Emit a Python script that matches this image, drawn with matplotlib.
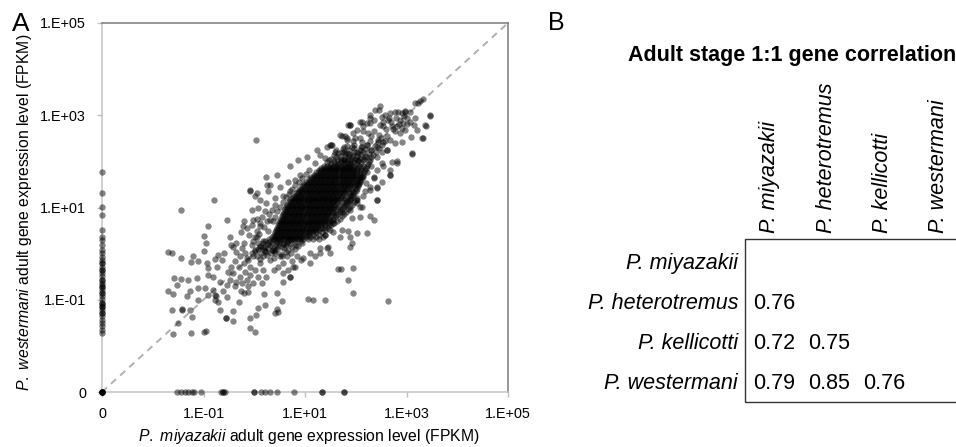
import matplotlib
matplotlib.use("Agg")
import matplotlib.pyplot as plt
from matplotlib.ticker import NullLocator, FixedLocator, FixedFormatter
from matplotlib.patches import Rectangle
import numpy as np

plt.rcParams['font.family'] = ['Liberation Sans', 'DejaVu Sans']
plt.rcParams['mathtext.fontset'] = 'custom'
plt.rcParams['mathtext.rm'] = 'Liberation Sans'
plt.rcParams['mathtext.it'] = 'Liberation Sans:italic'

# ---------------- Panel A data (log10 FPKM) ----------------
ZERO_POS = 1e-3  # where a zero value sits on the log axes (labelled "0")

# dense core, by rows: (log10 y, [log10 x ...])
core_rows = [
    (0.31, [0.30, 0.36, 0.41, 0.46, 0.51, 0.56, 0.61, 0.66, 0.71, 0.76, 0.81, 0.86, 0.91, 0.97, 1.05, 1.15, 1.28]),
    (0.36, [0.34, 0.40, 0.45, 0.50, 0.55, 0.60, 0.65, 0.70, 0.75, 0.80, 0.85, 0.90, 0.95, 1.01, 1.10, 1.22, 1.35]),
    (0.41, [0.38, 0.43, 0.48, 0.53, 0.58, 0.63, 0.68, 0.73, 0.78, 0.83, 0.88, 0.93, 0.98, 1.03, 1.08, 1.15, 1.27, 1.40]),
    (0.46, [0.40, 0.45, 0.50, 0.55, 0.60, 0.65, 0.70, 0.75, 0.80, 0.85, 0.90, 0.95, 1.00, 1.05, 1.10, 1.16, 1.22, 1.34]),
    (0.51, [0.42, 0.47, 0.52, 0.57, 0.62, 0.67, 0.72, 0.77, 0.82, 0.87, 0.92, 0.97, 1.02, 1.07, 1.12, 1.17, 1.22, 1.28, 1.40]),
    (0.56, [0.44, 0.49, 0.54, 0.59, 0.64, 0.69, 0.74, 0.79, 0.84, 0.89, 0.94, 0.99, 1.04, 1.09, 1.14, 1.19, 1.24, 1.29, 1.34, 1.46]),
    (0.61, [0.46, 0.51, 0.56, 0.61, 0.66, 0.71, 0.76, 0.81, 0.86, 0.91, 0.96, 1.01, 1.06, 1.11, 1.16, 1.21, 1.26, 1.31, 1.40, 1.52]),
    (0.66, [0.48, 0.53, 0.58, 0.63, 0.68, 0.73, 0.78, 0.83, 0.88, 0.93, 0.98, 1.03, 1.08, 1.13, 1.18, 1.23, 1.28, 1.33, 1.38, 1.46, 1.58]),
    (0.71, [0.50, 0.55, 0.60, 0.65, 0.70, 0.75, 0.80, 0.85, 0.90, 0.95, 1.00, 1.05, 1.10, 1.15, 1.20, 1.25, 1.30, 1.35, 1.40, 1.45, 1.52, 1.64]),
    (0.76, [0.52, 0.57, 0.62, 0.67, 0.72, 0.77, 0.82, 0.87, 0.92, 0.97, 1.02, 1.07, 1.12, 1.17, 1.22, 1.27, 1.32, 1.37, 1.42, 1.48, 1.56, 1.68]),
    (0.81, [0.54, 0.59, 0.64, 0.69, 0.74, 0.79, 0.84, 0.89, 0.94, 0.99, 1.04, 1.09, 1.14, 1.19, 1.24, 1.29, 1.34, 1.39, 1.44, 1.50, 1.60, 1.72]),
    (0.86, [0.56, 0.61, 0.66, 0.71, 0.76, 0.81, 0.86, 0.91, 0.96, 1.01, 1.06, 1.11, 1.16, 1.21, 1.26, 1.31, 1.36, 1.41, 1.46, 1.53, 1.64, 1.76]),
    (0.91, [0.58, 0.63, 0.68, 0.73, 0.78, 0.83, 0.88, 0.93, 0.98, 1.03, 1.08, 1.13, 1.18, 1.23, 1.28, 1.33, 1.38, 1.43, 1.48, 1.53, 1.58, 1.68, 1.80]),
    (0.96, [0.60, 0.65, 0.70, 0.75, 0.80, 0.85, 0.90, 0.95, 1.00, 1.05, 1.10, 1.15, 1.20, 1.25, 1.30, 1.35, 1.40, 1.45, 1.50, 1.55, 1.62, 1.72, 1.84]),
    (1.01, [0.62, 0.67, 0.72, 0.77, 0.82, 0.87, 0.92, 0.97, 1.02, 1.07, 1.12, 1.17, 1.22, 1.27, 1.32, 1.37, 1.42, 1.47, 1.52, 1.57, 1.65, 1.76, 1.88]),
    (1.06, [0.65, 0.70, 0.75, 0.80, 0.85, 0.90, 0.95, 1.00, 1.05, 1.10, 1.15, 1.20, 1.25, 1.30, 1.35, 1.40, 1.45, 1.50, 1.55, 1.60, 1.68, 1.80, 1.92]),
    (1.11, [0.68, 0.73, 0.78, 0.83, 0.88, 0.93, 0.98, 1.03, 1.08, 1.13, 1.18, 1.23, 1.28, 1.33, 1.38, 1.43, 1.48, 1.53, 1.58, 1.63, 1.72, 1.84, 1.96]),
    (1.16, [0.71, 0.76, 0.81, 0.86, 0.91, 0.96, 1.01, 1.06, 1.11, 1.16, 1.21, 1.26, 1.31, 1.36, 1.41, 1.46, 1.51, 1.56, 1.61, 1.66, 1.76, 1.88, 2.00]),
    (1.21, [0.75, 0.80, 0.85, 0.90, 0.95, 1.00, 1.05, 1.10, 1.15, 1.20, 1.25, 1.30, 1.35, 1.40, 1.45, 1.50, 1.55, 1.60, 1.65, 1.70, 1.79, 1.91, 2.03]),
    (1.26, [0.78, 0.83, 0.88, 0.93, 0.98, 1.03, 1.08, 1.13, 1.18, 1.23, 1.28, 1.33, 1.38, 1.43, 1.48, 1.53, 1.58, 1.63, 1.68, 1.73, 1.82, 1.94]),
    (1.31, [0.82, 0.87, 0.92, 0.97, 1.02, 1.07, 1.12, 1.17, 1.22, 1.27, 1.32, 1.37, 1.42, 1.47, 1.52, 1.57, 1.62, 1.67, 1.72, 1.77, 1.86, 1.97]),
    (1.36, [0.86, 0.91, 0.96, 1.01, 1.06, 1.11, 1.16, 1.21, 1.26, 1.31, 1.36, 1.41, 1.46, 1.51, 1.56, 1.61, 1.66, 1.71, 1.76, 1.81, 1.90, 2.00]),
    (1.41, [0.90, 0.95, 1.00, 1.05, 1.10, 1.15, 1.20, 1.25, 1.30, 1.35, 1.40, 1.45, 1.50, 1.55, 1.60, 1.65, 1.70, 1.75, 1.80, 1.85, 1.93, 2.02]),
    (1.46, [0.94, 0.99, 1.04, 1.09, 1.14, 1.19, 1.24, 1.29, 1.34, 1.39, 1.44, 1.49, 1.54, 1.59, 1.64, 1.69, 1.74, 1.79, 1.84, 1.89, 1.96, 2.05]),
    (1.51, [0.98, 1.03, 1.08, 1.13, 1.18, 1.23, 1.28, 1.33, 1.38, 1.43, 1.48, 1.53, 1.58, 1.63, 1.68, 1.73, 1.78, 1.83, 1.88, 1.93, 2.00, 2.07]),
    (1.56, [1.02, 1.07, 1.12, 1.17, 1.22, 1.27, 1.32, 1.37, 1.42, 1.47, 1.52, 1.57, 1.62, 1.67, 1.72, 1.77, 1.82, 1.87, 1.92, 1.97, 2.03, 2.09]),
    (1.61, [1.07, 1.12, 1.17, 1.22, 1.27, 1.32, 1.37, 1.42, 1.47, 1.52, 1.57, 1.62, 1.67, 1.72, 1.77, 1.82, 1.87, 1.92, 1.98, 2.04, 2.11]),
    (1.66, [1.12, 1.17, 1.22, 1.27, 1.32, 1.37, 1.42, 1.47, 1.52, 1.57, 1.62, 1.67, 1.72, 1.77, 1.82, 1.87, 1.92, 1.97, 2.03, 2.08, 2.13]),
    (1.71, [1.17, 1.22, 1.27, 1.32, 1.37, 1.42, 1.47, 1.52, 1.57, 1.62, 1.67, 1.72, 1.77, 1.82, 1.87, 1.92, 1.97, 2.03, 2.09, 2.15]),
    (1.76, [1.22, 1.27, 1.32, 1.37, 1.42, 1.47, 1.52, 1.57, 1.62, 1.67, 1.72, 1.77, 1.82, 1.87, 1.92, 1.97, 2.02, 2.08, 2.17]),
    (1.81, [1.27, 1.32, 1.37, 1.42, 1.47, 1.52, 1.57, 1.62, 1.67, 1.72, 1.77, 1.82, 1.87, 1.92, 1.97, 2.03, 2.10, 2.19]),
    (1.86, [1.32, 1.38, 1.44, 1.49, 1.54, 1.59, 1.64, 1.69, 1.74, 1.79, 1.84, 1.89, 1.95, 2.02, 2.10, 2.21]),
    (1.91, [1.37, 1.44, 1.50, 1.56, 1.61, 1.66, 1.71, 1.76, 1.81, 1.86, 1.92, 1.99, 2.07, 2.14, 2.23]),
]

# lower fringe of the core (log10 x, log10 y)
core_low_pts = [
    (-0.15, -0.10), (-0.02, -0.05), (0.12, -0.11), (0.26, -0.04), (0.38, -0.09), (0.55, -0.06),
    (0.02, 0.05), (0.13, 0.01), (0.21, 0.06), (0.33, 0.02), (0.41, 0.05), (0.52, 0.00), (0.63, 0.04), (0.72, 0.01),
    (0.08, 0.11), (0.19, 0.08), (0.27, 0.12), (0.36, 0.07), (0.45, 0.10), (0.58, 0.13), (0.66, 0.08), (0.81, 0.11),
    (0.11, 0.17), (0.22, 0.14), (0.31, 0.18), (0.38, 0.13), (0.47, 0.17), (0.55, 0.14), (0.62, 0.18), (0.74, 0.15),
    (0.86, 0.17), (0.18, 0.23), (0.27, 0.20), (0.35, 0.24), (0.42, 0.19), (0.49, 0.22), (0.57, 0.20), (0.64, 0.24),
    (0.71, 0.21), (0.83, 0.19), (0.95, 0.23), (0.22, 0.28), (0.30, 0.25), (0.38, 0.29), (0.44, 0.26), (0.51, 0.28),
    (0.58, 0.24), (0.66, 0.27), (0.73, 0.29), (0.80, 0.25), (0.92, 0.28),
]

# upper fringe of the core
core_high_pts = [
    (1.43, 1.98), (1.52, 1.95), (1.59, 1.97), (1.65, 1.94), (1.70, 1.98), (1.76, 1.95), (1.82, 1.97), (1.88, 1.94),
    (1.95, 1.98), (2.02, 1.95), (2.11, 1.97), (2.24, 1.94),
    (1.47, 2.03), (1.57, 2.00), (1.64, 2.04), (1.71, 2.01), (1.77, 2.03), (1.83, 2.00), (1.90, 2.02), (1.97, 2.04),
    (2.05, 2.00), (2.14, 2.03), (2.27, 2.01),
    (1.52, 2.06), (1.62, 2.09), (1.70, 2.05), (1.78, 2.08), (1.85, 2.06), (1.92, 2.09), (2.00, 2.05), (2.08, 2.08),
    (2.17, 2.06), (2.30, 2.09),
    (1.58, 2.14), (1.69, 2.11), (1.78, 2.15), (1.86, 2.12), (1.94, 2.14), (2.02, 2.11), (2.11, 2.15), (2.21, 2.12),
    (2.34, 2.14),
    (1.66, 2.18), (1.77, 2.21), (1.87, 2.17), (1.96, 2.20), (2.05, 2.18), (2.15, 2.21), (2.26, 2.17), (2.40, 2.20),
    (1.74, 2.27), (1.86, 2.24), (1.97, 2.28), (2.08, 2.25), (2.19, 2.27), (2.31, 2.24), (2.45, 2.28),
    (1.83, 2.33), (1.97, 2.36), (2.10, 2.32), (2.23, 2.35), (2.37, 2.33), (2.52, 2.36),
    (1.95, 2.44), (2.12, 2.41), (2.28, 2.45), (2.44, 2.42), (2.58, 2.44),
    (2.08, 2.51), (2.30, 2.54), (2.50, 2.50),
]

# side edges of the core
core_edge_pts = [
    (1.62, 0.84), (1.68, 0.95), (1.76, 1.04), (1.82, 1.14), (1.88, 1.24), (1.95, 1.33), (2.00, 1.42),
    (2.05, 1.50), (1.72, 0.90), (1.80, 1.10), (1.92, 1.28), (2.08, 1.58), (1.55, 0.72), (1.48, 0.62),
    (1.40, 0.56), (0.45, 0.92), (0.50, 1.02), (0.56, 1.12), (0.62, 1.22), (0.68, 1.30), (0.74, 1.40),
    (0.80, 1.48), (0.88, 1.56), (0.95, 1.64), (1.02, 1.72), (0.40, 0.80), (0.36, 0.70),
]

# sparse lower-left tail
tail_pts = [
    (-0.92, 0.59), (-1.00, 0.39), (-0.48, 0.37), (-0.22, 0.59), (-0.26, 0.46), (-0.96, 0.23),
    (-0.99, 0.06), (-1.69, 0.04), (-1.63, 0.01), (-1.44, -0.10), (-1.20, -0.05), (-1.25, -0.19),
    (-1.10, -0.17), (-0.71, -0.03), (-0.59, 0.01), (-0.64, -0.14), (-0.77, -0.12), (-0.94, -0.21),
    (-0.92, -0.32), (-0.74, -0.28), (-1.59, -0.52), (-1.45, -0.56), (-1.30, -0.57), (-1.13, -0.52),
    (-0.92, -0.46), (-0.81, -0.50), (-0.67, -0.61), (-1.53, -0.68), (-1.69, -0.81), (-1.61, -0.87),
    (-1.27, -0.80), (-1.33, -0.92), (-1.10, -0.75), (-0.97, -0.75), (-0.91, -0.90), (-0.81, -0.79),
    (-0.77, -0.90), (-0.76, -0.91), (-0.77, -1.00), (-0.71, -1.04), (-1.10, -1.00), (-1.27, -1.22),
    (-1.43, -1.21), (-1.42, -1.22), (-1.63, -1.22), (-1.23, -1.37), (-1.50, -1.51), (-1.61, -1.74),
    (-1.25, -1.73), (-1.00, -1.71), (-0.96, -1.67), (-0.67, -1.22), (-0.56, -1.39), (-0.55, -1.40),
    (-0.42, -1.24), (-0.41, -1.45), (-0.31, -1.04), (-0.26, -0.80), (-0.12, -0.83), (-0.08, -1.40),
    (-0.08, -1.62), (0.01, -1.69), (0.03, -1.33), (0.07, -1.17), (0.19, -0.87), (0.21, -1.11),
    (0.44, -0.86), (0.44, -1.19), (0.54, -1.02), (0.47, -1.26), (0.41, -1.29), (1.05, -0.99),
    (1.16, -1.00), (1.39, -1.00), (0.56, -0.61), (0.70, -0.50),
]

# band between tail and core
mid_pts = [
    (-0.41, 0.15), (-0.35, 0.04), (-0.25, 0.12), (-0.18, 0.01), (-0.28, -0.06), (-0.38, -0.17),
    (-0.45, -0.28), (-0.51, -0.39), (-0.41, -0.43), (-0.31, -0.28), (-0.21, -0.21), (-0.12, -0.14),
    (-0.05, 0.01), (0.02, 0.08), (0.05, -0.06), (-0.08, -0.28), (-0.18, -0.39), (-0.28, -0.50),
    (-0.35, -0.61), (-0.48, -0.57), (-0.54, -0.68), (-0.61, -0.82), (-0.54, -0.93), (-0.38, -0.71),
    (-0.25, -0.64), (-0.15, -0.57), (-0.08, -0.46), (0.02, -0.35), (0.11, -0.21), (0.18, -0.06),
    (0.24, 0.04), (0.11, 0.15), (0.34, 0.08), (0.31, -0.14), (0.18, -0.35), (0.08, -0.50),
    (-0.02, -0.64), (-0.12, -0.71), (-0.21, -0.86), (0.15, -0.64), (0.24, -0.50), (0.38, -0.35),
    (0.47, -0.28), (0.57, -0.21), (0.51, -0.06), (0.41, 0.01), (0.64, -0.06), (0.74, -0.17),
    (0.80, -0.28), (0.67, -0.35), (0.57, -0.43), (0.70, -0.50), (0.18, 0.15), (-0.05, 0.19),
    (-0.21, 0.24), (-0.35, 0.24), (-0.45, 0.19),
    (-0.15, 0.55), (-0.05, 0.62), (0.05, 0.50), (0.12, 0.66), (-0.10, 0.40), (0.02, 0.35),
    (0.10, 0.42), (0.20, 0.58), (0.25, 0.70), (0.15, 0.80), (0.05, 0.75), (0.30, 0.85),
    (0.35, 0.95), (0.22, 0.92), (0.40, 1.05), (-0.20, 0.70), (0.18, 0.28), (0.28, 0.48),
    (0.08, 0.22), (-0.02, 0.28),
]

# halo around the core
halo_pts = [
    (1.49, 2.36), (1.30, 2.14), (1.39, 2.07), (1.20, 1.96), (1.07, 1.82), (0.90, 1.71),
    (0.80, 1.60), (0.67, 1.56), (0.51, 1.45), (0.31, 1.49), (0.28, 1.35), (0.11, 1.16),
    (0.01, 1.24), (0.24, 1.09), (0.41, 1.20), (0.57, 1.24), (0.70, 1.35), (-0.08, 1.38),
    (-0.05, 0.95), (0.08, 0.98), (-0.02, 0.73), (0.11, 0.59), (0.31, 0.73), (0.05, 0.37),
    (1.69, 2.57), (1.89, 2.79), (2.08, 2.86), (1.82, 2.50), (1.59, 2.21), (1.76, 2.32),
    (2.81, 2.00), (2.67, 1.82), (2.41, 1.16), (2.28, 1.38), (2.12, 1.02), (2.08, 0.80),
    (1.92, 0.77), (1.72, 0.51), (1.89, 0.37), (1.69, 0.37), (1.46, 0.15), (1.30, 0.01),
    (1.20, -0.06), (1.10, -0.21), (0.97, -0.10), (1.66, -0.34), (1.70, -0.34), (1.95, -0.32),
    (2.54, 2.76), (2.44, 2.47), (2.61, 2.25), (2.51, 1.96), (2.35, 1.67), (2.21, 1.53),
    (2.51, 1.56), (2.02, 1.16), (1.89, 0.95), (1.56, 0.66), (1.39, 0.41), (1.49, 0.51),
    (0.77, -0.28), (0.24, 1.67), (0.44, 1.71), (0.70, 1.89), (0.87, 2.03), (1.03, 2.10),
    (1.23, 2.25), (1.43, 2.32), (1.82, 2.47), (1.95, 2.61), (2.15, 2.76), (2.28, 2.83),
    (0.84, -0.06), (0.93, -0.14), (1.10, 0.01), (1.30, 0.12), (1.49, 0.01), (1.89, 0.15),
    (2.02, 0.44), (2.22, 0.44), (2.35, 0.73), (2.41, 1.45), (2.67, 1.71), (2.28, 0.82),
    (1.92, 0.24), (1.85, 0.50), (1.56, 0.46), (1.43, 0.12),
]

# upper-right arm
upper_pts = [
    (3.32, 3.35), (3.23, 3.26), (3.27, 3.30), (3.46, 2.99), (3.38, 2.76), (3.32, 2.50),
    (3.10, 2.16), (3.09, 2.52), (3.17, 2.94), (3.06, 3.08), (2.97, 3.08), (2.91, 3.05),
    (3.00, 2.94), (3.07, 2.86), (3.14, 2.79), (3.20, 2.68), (2.94, 2.83), (2.81, 2.76),
    (2.77, 2.65), (2.87, 2.61), (2.97, 2.68), (2.91, 2.43), (2.77, 2.39), (2.68, 2.47),
    (2.61, 2.54), (2.71, 2.76), (2.64, 2.90), (2.54, 2.86), (2.48, 2.79), (2.58, 3.01),
    (2.68, 3.05), (2.77, 3.08), (2.48, 3.19), (2.38, 3.12), (2.28, 3.01), (2.35, 2.90),
    (2.22, 2.83), (2.12, 2.86), (2.02, 2.68), (1.89, 2.79), (1.79, 2.54), (1.99, 2.50),
    (2.15, 2.65), (2.25, 2.61), (2.35, 2.65), (2.45, 2.57), (2.54, 2.43), (2.41, 2.32),
    (2.31, 2.25), (2.22, 2.36), (2.12, 2.32), (2.02, 2.21), (1.92, 2.32), (1.82, 2.18),
    (1.72, 2.21), (1.62, 2.25), (1.53, 2.36), (1.76, 2.03), (1.89, 1.96), (2.05, 2.03),
    (2.18, 2.10), (2.28, 2.03), (2.41, 2.10), (2.51, 2.21), (2.61, 2.25), (2.71, 1.99),
    (2.68, 1.71), (2.81, 1.96), (2.54, 1.89), (2.41, 1.82), (2.31, 1.89), (2.22, 1.78),
    (2.15, 1.67), (2.35, 1.64), (2.28, 1.45), (2.18, 1.35), (2.41, 1.42), (2.15, 1.24),
    (2.41, 1.17), (2.02, 1.09), (2.08, 1.02), (1.89, 1.17), (2.51, 2.97), (2.28, 2.94),
    (1.85, 2.79), (1.72, 2.54), (1.51, 2.36), (2.45, 3.12), (2.84, 3.08), (2.97, 3.10),
    (3.17, 3.26), (3.30, 2.50), (3.36, 2.79), (3.10, 2.18), (3.46, 3.00),
    (2.70, 2.85), (2.80, 2.95), (2.88, 2.90), (2.95, 2.98), (2.60, 2.70), (2.74, 2.70),
    (2.85, 2.80), (3.00, 2.80), (2.66, 2.95), (2.92, 2.72),
]

# isolated points
outlier_pts = [
    (0.03, 2.47), (-1.44, 0.95), (-0.79, 1.16), (-0.08, 1.36), (0.05, 1.32), (0.26, 1.49),
    (-0.54, 0.73), (2.64, -1.02), (1.95, -0.85), (1.85, -0.57),
]

# genes with P. miyazakii FPKM = 0 : log10 of P. westermani FPKM
zero_x_ly = [1.77, 1.32, 1.01, 0.84, 0.51, 0.36, 0.30, 0.19, 0.08, 0.02, -0.07, -0.14,
             -0.20, -0.29, -0.35, -0.42, -0.48, -0.57, -0.64, -0.68, -0.72, -0.79, -0.85,
             -0.92, -0.98, -1.07, -1.11, -1.16, -1.22, -1.29, -1.35, -1.44, -1.50, -1.57,
             -1.66, -1.72, -0.20, -0.35, -0.57, -0.72, -0.85, -1.07, -1.16, -1.29]
# genes with P. westermani FPKM = 0 : log10 of P. miyazakii FPKM
zero_y_lx = [-1.53, -1.44, -1.36, -1.30, -1.23, -1.18, -1.04, -0.66, -0.61, -0.58, 0.00,
             0.13, 0.21, 0.31, 0.44, 0.79, 1.33, 1.76, 0.00, -0.61, 1.33, 1.76]
origin_count = 6  # genes with zero in both

# ---------------- Panel B data ----------------
species = ["P. miyazakii", "P. heterotremus", "P. kellicotti", "P. westermani"]
corr = [
    [None, None, None, None],
    [0.76, None, None, None],
    [0.72, 0.75, None, None],
    [0.79, 0.85, 0.76, None],
]

# ---------------- assemble points ----------------
lx_all, ly_all = [], []
for ly, xs in core_rows:
    for lx in xs:
        lx_all.append(lx)
        ly_all.append(ly)
for group in (core_low_pts, core_high_pts, core_edge_pts, tail_pts, mid_pts,
              halo_pts, upper_pts, outlier_pts):
    for lx, ly in group:
        lx_all.append(lx)
        ly_all.append(ly)
X = list(10.0 ** np.array(lx_all))
Y = list(10.0 ** np.array(ly_all))
for ly in zero_x_ly:
    X.append(ZERO_POS); Y.append(10.0 ** ly)
for lx in zero_y_lx:
    X.append(10.0 ** lx); Y.append(ZERO_POS)
for _ in range(origin_count):
    X.append(ZERO_POS); Y.append(ZERO_POS)

W, H = 956, 447
fig = plt.figure(figsize=(W / 100, H / 100), dpi=100)
ax = fig.add_axes([102 / W, 1 - 392 / H, 406 / W, 369 / H])

ax.plot([1e-3, 1e5], [1e-3, 1e5], ls=(0, (3.5, 2.8)), color='#b0b0b0', lw=1.4, zorder=1)
ax.scatter(X, Y, s=21, c='black', alpha=0.48, linewidths=0, zorder=3, clip_on=False)

ax.set_xscale('log')
ax.set_yscale('log')
ax.set_xlim(1e-3, 1e5)
ax.set_ylim(1e-3, 1e5)
ticks = [1e-3, 1e-1, 1e1, 1e3, 1e5]
tick_labels = ['0', '1.E-01', '1.E+01', '1.E+03', '1.E+05']
for axis in (ax.xaxis, ax.yaxis):
    axis.set_major_locator(FixedLocator(ticks))
    axis.set_major_formatter(FixedFormatter(tick_labels))
    axis.set_minor_locator(NullLocator())
ax.tick_params(axis='both', direction='out', length=3.5, width=1, color='#c0c0c0',
               labelsize=10.4, labelcolor='black')
ax.tick_params(axis='x', pad=7)
ax.tick_params(axis='y', pad=8)
for side in ('top', 'right'):
    ax.spines[side].set_color('#7a7a7a')
    ax.spines[side].set_linewidth(1.1)
for side in ('left', 'bottom'):
    ax.spines[side].set_color('#c4c4c4')
    ax.spines[side].set_linewidth(1.1)

fig.text(309 / W, 1 - 437 / H, r'$\mathit{P.}$ $\mathit{miyazakii}$ adult gene expression level (FPKM)',
         ha='center', va='center', fontsize=11.3)
fig.text(25 / W, 1 - 212 / H, r'$\mathit{P.}$ $\mathit{westermani}$ adult gene expression level (FPKM)',
         ha='center', va='center', rotation=90, fontsize=11.3)
fig.text(12 / W, 1 - 31 / H, 'A', fontsize=19, ha='left', va='baseline')

# ---------------- Panel B ----------------
fig.text(548 / W, 1 - 30 / H, 'B', fontsize=18, ha='left', va='baseline')
fig.text(628 / W, 1 - 61 / H, 'Adult stage 1:1 gene correlation', fontsize=15.5,
         fontweight='bold', ha='left', va='baseline')

col_x = [770, 827, 882, 938]
for j, name in enumerate(species):
    fig.text(col_x[j] / W, 1 - 233 / H, name, rotation=90, ha='center', va='bottom',
             style='italic', fontsize=15.5)
for i, name in enumerate(species):
    base = 269 + 40 * i
    fig.text(738 / W, 1 - base / H, name, ha='right', va='baseline', style='italic',
             fontsize=15.5)
    for j, v in enumerate(corr[i]):
        if v is not None:
            fig.text((753 + 55 * j) / W, 1 - base / H, f'{v:.2f}', ha='left',
                     va='baseline', fontsize=15.5)

box = Rectangle((745 / W, 1 - 402 / H), (970 - 745) / W, (402 - 239) / H,
                transform=fig.transFigure, fill=False, edgecolor='#333333', lw=1.0)
fig.add_artist(box)

fig.savefig('out.png', dpi=100)
